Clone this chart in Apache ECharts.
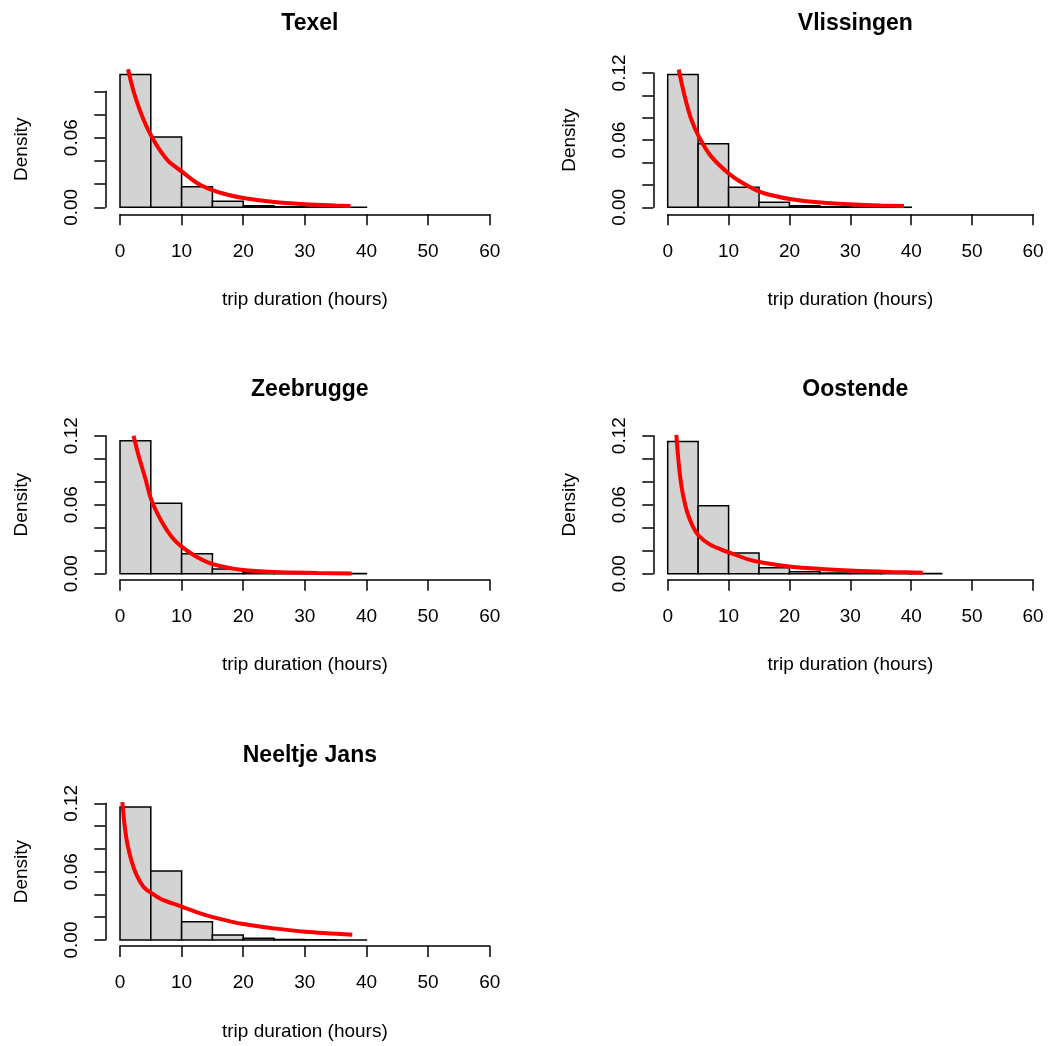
<!DOCTYPE html>
<html><head><meta charset="utf-8">
<script src="https://cdn.jsdelivr.net/npm/echarts@6/dist/echarts.min.js"></script>
<style>html,body{margin:0;padding:0;background:#fff}#c{width:1059px;height:1046px}</style>
</head><body><div id="c"></div>
<script>
// ---- data ----
const stations = ['Texel', 'Vlissingen', 'Zeebrugge', 'Oostende', 'Neeltje Jans'];
const binWidth = 5;
const texelDensity = [0.1144, 0.0606, 0.0178, 0.0052, 0.0013, 0.0005, 0.0002, 0.0001];
const vlissingenDensity = [0.1185, 0.0568, 0.0179, 0.0046, 0.0013, 0.0005, 0.0003, 0.0001];
const zeebruggeDensity = [0.1157, 0.0612, 0.0174, 0.0041, 0.0011, 0.0003, 0.0001, 0.0001];
const oostendeDensity = [0.1150, 0.0591, 0.0180, 0.0052, 0.0017, 0.0007, 0.0004, 0.0002, 0.0001];
const neeltjeDensity = [0.1168, 0.0606, 0.0161, 0.0044, 0.0015, 0.0005, 0.0002, 0.0001];

const texelCurveX = [1.3, 2.2, 3.2, 4.2, 5.0, 6.5, 8.0, 10, 12.5, 15, 17.5, 20, 25, 30, 35, 37.4];
const texelCurveY = [0.119, 0.100, 0.084, 0.071, 0.0624, 0.049, 0.039, 0.031, 0.021, 0.0148, 0.0108, 0.0080, 0.0045, 0.0027, 0.0016, 0.0012];
const vlissingenCurveX = [1.8, 2.8, 3.9, 5.25, 7.2, 10.3, 13.2, 15.7, 20.3, 25.2, 30.7, 35, 38.8];
const vlissingenCurveY = [0.123, 0.099, 0.078, 0.0616, 0.045, 0.029, 0.019, 0.0128, 0.0072, 0.0042, 0.0024, 0.0016, 0.0012];
const zeebruggeCurveX = [2.2, 3.0, 4.1, 5.1, 6.8, 8.4, 10, 12.4, 15.2, 20, 25, 32, 37.6];
const zeebruggeCurveY = [0.120, 0.103, 0.083, 0.064, 0.045, 0.032, 0.0235, 0.0148, 0.0081, 0.0032, 0.0014, 0.0006, 0.0002];
const oostendeCurveX = [1.42, 1.7, 2.08, 2.5, 3.2, 4.05, 5.1, 6.9, 8.8, 10.5, 13.2, 15.7, 20.3, 25.2, 30.7, 36.7, 41.9];
const oostendeCurveY = [0.1206, 0.102, 0.083, 0.069, 0.0535, 0.042, 0.0330, 0.0255, 0.021, 0.0177, 0.0125, 0.0096, 0.0061, 0.0041, 0.0025, 0.0015, 0.0009];
const neeltjeCurveX = [0.38, 0.81, 1.24, 1.9, 2.7, 3.8, 5.0, 6.8, 8.5, 10, 13, 15.2, 20, 25, 30, 37.7];
const neeltjeCurveY = [0.121, 0.098, 0.083, 0.0688, 0.057, 0.0468, 0.0415, 0.0355, 0.0322, 0.0293, 0.0234, 0.0199, 0.014, 0.0102, 0.0073, 0.0047];

const yLabelValues = ['0.00', '0.06', '0.12'];
const xAxisTitle = 'trip duration (hours)';
const yAxisTitle = 'Density';

const densities = [texelDensity, vlissingenDensity, zeebruggeDensity, oostendeDensity, neeltjeDensity];
const curvesX = [texelCurveX, vlissingenCurveX, zeebruggeCurveX, oostendeCurveX, neeltjeCurveX];
const curvesY = [texelCurveY, vlissingenCurveY, zeebruggeCurveY, oostendeCurveY, neeltjeCurveY];
const yMaxes = [0.10, 0.12, 0.12, 0.12, 0.12];

// ---- layout ----
const layouts = [
  {left: 120, width: 369.7, base: 207.3, scale: 1160, xOff: 7, yOff: 14.7, titleY: 20.7},
  {left: 667.7, width: 365.3, base: 207.3, scale: 1120, xOff: 7, yOff: 14.4, titleY: 20.7},
  {left: 120, width: 369.7, base: 573.7, scale: 1150, xOff: 6, yOff: 14.7, titleY: 387.0},
  {left: 667.7, width: 365.3, base: 573.7, scale: 1150, xOff: 6, yOff: 14.4, titleY: 387.0},
  {left: 120, width: 369.7, base: 940.0, scale: 1139, xOff: 6, yOff: 14.7, titleY: 753.3}
];

const FONT = '"Liberation Sans", Arial, sans-serif';
const AX = {color: '#000', width: 1.5};

const grids = [], xAxes = [], yAxes = [], series = [], titles = [];
stations.forEach((name, i) => {
  const L = layouts[i];
  const h = yMaxes[i] * L.scale;
  grids.push({left: L.left, top: L.base - h, width: L.width, height: h, containLabel: false});
  titles.push({
    text: name, left: L.left + L.width / 2, top: L.titleY - 14, textAlign: 'center',
    textStyle: {fontFamily: FONT, fontSize: 23, fontWeight: 'bold', color: '#000'}
  });
  xAxes.push({
    type: 'value', gridIndex: i, min: 0, max: 60, interval: 10, offset: L.xOff,
    name: xAxisTitle, nameLocation: 'middle', nameGap: 76,
    nameTextStyle: {fontFamily: FONT, fontSize: 19, color: '#000'},
    axisLine: {show: true, onZero: false, lineStyle: AX},
    axisTick: {show: true, length: 11, lineStyle: AX},
    axisLabel: {fontFamily: FONT, fontSize: 19, color: '#000', margin: 27.5},
    splitLine: {show: false}
  });
  yAxes.push({
    type: 'value', gridIndex: i, min: 0, max: yMaxes[i], interval: 0.02, offset: L.yOff,
    name: yAxisTitle, nameLocation: 'middle', nameGap: 74, nameRotate: 90,
    nameTextStyle: {fontFamily: FONT, fontSize: 19, color: '#000'},
    axisLine: {show: true, onZero: false, lineStyle: AX},
    axisTick: {show: true, length: 11, lineStyle: AX},
    axisLabel: {
      fontFamily: FONT, fontSize: 19, color: '#000', rotate: 90, margin: 24, showMaxLabel: true,
      formatter: v => { const s = v.toFixed(2); return yLabelValues.includes(s) ? s : ''; }
    },
    splitLine: {show: false}
  });
  series.push({
    type: 'custom', xAxisIndex: i, yAxisIndex: i, clip: false, z: 2,
    data: densities[i].map((d, k) => [k * binWidth, (k + 1) * binWidth, d]),
    encode: {x: [0, 1], y: 2},
    renderItem: (params, api) => {
      const p0 = api.coord([api.value(0), api.value(2)]);
      const p1 = api.coord([api.value(1), 0]);
      return {
        type: 'rect',
        shape: {x: p0[0], y: p0[1], width: p1[0] - p0[0], height: p1[1] - p0[1]},
        style: {fill: '#d3d3d3', stroke: '#000', lineWidth: 1.5}
      };
    }
  });
  series.push({
    type: 'line', xAxisIndex: i, yAxisIndex: i, clip: false, z: 5,
    data: curvesX[i].map((x, k) => [x, curvesY[i][k]]),
    showSymbol: false, symbol: 'none', smooth: 0.3,
    lineStyle: {color: '#ff0000', width: 4}
  });
});

const chart = echarts.init(document.getElementById('c'), null, {renderer: 'canvas'});
chart.setOption({
  animation: false,
  backgroundColor: '#fff',
  title: titles,
  grid: grids,
  xAxis: xAxes,
  yAxis: yAxes,
  series: series
});
</script>
</body></html>
